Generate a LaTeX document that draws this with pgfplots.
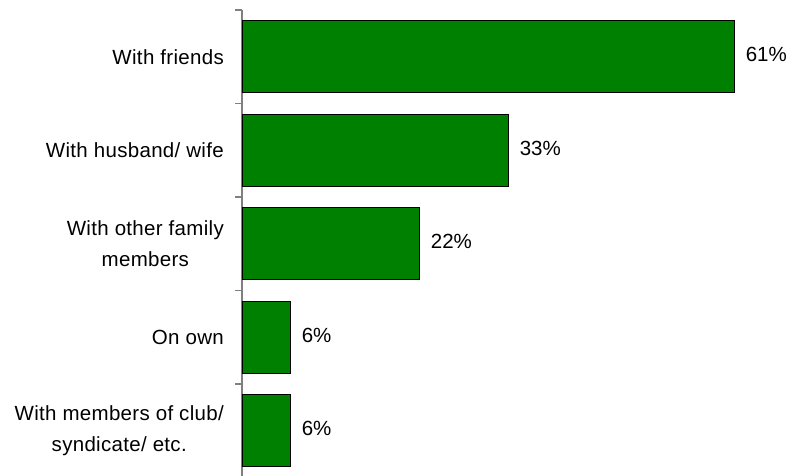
\documentclass[border=0pt]{standalone}
\usepackage{pgfplots}
\pgfplotsset{compat=1.18}
\usepackage{fontspec}
\setmainfont{Liberation Sans}
\newfontfamily\catfont[LetterSpace=1.5]{Liberation Sans}
\definecolor{bargreen}{RGB}{0,128,0}
\definecolor{axgray}{RGB}{128,128,128}
\begin{document}
\begin{tikzpicture}
\useasboundingbox (0,0) rectangle (791pt,475pt);
\begin{axis}[
  at={(242pt,-2.5pt)}, anchor=south west,
  scale only axis,
  width=549pt, height=467.5pt,
  xmin=0, xmax=68,
  ymin=-0.5, ymax=4.5,
  xbar, bar width=72pt,
  axis x line=none,
  axis y line*=left,
  axis line style={-, draw=axgray, line width=1.4pt},
  ytick={0,1,2,3,4},
  yticklabels={{With members of club/\\syndicate/ etc.},{On own},{With other family\\members},{With husband/ wife},{With friends}},
  minor ytick={-0.5,0.5,1.5,2.5,3.5,4.5},
  major tick length=0pt,
  minor tick length=7pt,
  tick align=outside,
  minor tick style={draw=axgray, line width=1.2pt},
  yticklabel style={align=center, font=\catfont\fontsize{20.5}{31}\selectfont, inner sep=0pt, xshift=-18pt},
  nodes near coords={\pgfmathprintnumber[assume math mode=true]{\pgfplotspointmeta}\%},
  nodes near coords style={font=\fontsize{20.5}{24}\selectfont, anchor=west, xshift=7.5pt, yshift=2pt},
  point meta=x,
  clip=false,
]
\addplot[fill=bargreen, draw=black, line width=1pt] coordinates {
  (6,0) (6,1) (22,2) (33,3) (61,4)
};
\end{axis}
\end{tikzpicture}
\end{document}
